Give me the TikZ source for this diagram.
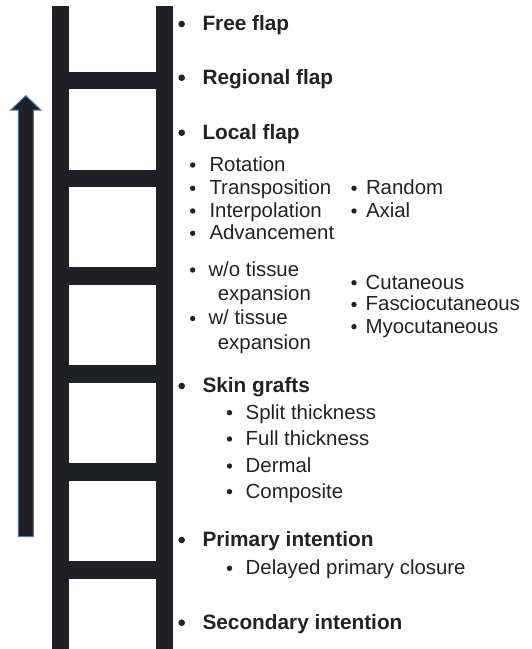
\documentclass[tikz,border=0pt]{standalone}
\usepackage{fontspec}
\setmainfont{Liberation Sans}
\definecolor{ink}{HTML}{202124}
\definecolor{txt}{HTML}{222222}
\definecolor{edge}{HTML}{4F79A8}
\tikzset{
  part/.style={fill=ink, draw=none},
  lbl/.style={anchor=base west, inner sep=0pt, text=txt, font=\fontsize{20.4}{24}\selectfont},
  blbl/.style={lbl, font=\fontsize{20.8}{24}\selectfont\bfseries},
  bigdot/.style={circle, fill=txt, inner sep=0pt, minimum size=6.6pt},
  smalldot/.style={circle, fill=txt, inner sep=0pt, minimum size=5.4pt},
}
\begin{document}
\begin{tikzpicture}[x=1pt,y=-1pt]
\useasboundingbox (0,0) rectangle (532,649);
% ladder rails
\fill[part] (51.7,6) rectangle (68.7,648.5);
\fill[part] (155.7,6) rectangle (172.7,648.5);
% rungs
\foreach \y in {71.7,169.7,267.3,365.3,463.3,561} {
  \fill[part] (68.7,\y) rectangle (155.7,\y+17.5);
}
% arrow
\filldraw[fill=ink, draw=edge, line width=1pt]
  (18.3,536.7) -- (18.3,110) -- (10.7,110) -- (25.8,95.7) -- (40.9,110) -- (33.3,110) -- (33.3,536.7) -- cycle;

% main items
\node[bigdot] (b1) at (181.7,24) {};
\node[blbl] (t1) at (202.3,30.3) {Free flap};
\node[bigdot] (b2) at (181.7,77.7) {};
\node[blbl] (t2) at (202.3,84) {Regional flap};
\node[bigdot] (b3) at (181.7,132.7) {};
\node[blbl] (t3) at (202.3,139) {Local flap};

% local flap sub items
\node[smalldot] (s1) at (192.7,165) {};
\node[lbl] (u1) at (209.3,171.3) {Rotation};
\node[smalldot] (s2) at (192.7,188.3) {};
\node[lbl] (u2) at (209.3,194.6) {Transposition};
\node[smalldot] (s3) at (192.7,211) {};
\node[lbl] (u3) at (209.3,217.3) {Interpolation};
\node[smalldot] (s4) at (192.7,233.3) {};
\node[lbl] (u4) at (209.3,239.6) {Advancement};

\node[smalldot] (r1) at (354,188.3) {};
\node[lbl] (v1) at (365.8,194.6) {Random};
\node[smalldot] (r2) at (354,211) {};
\node[lbl] (v2) at (365.8,217.3) {Axial};

\node[smalldot] (s5) at (192.7,270) {};
\node[lbl] (u5) at (208.3,276.3) {w/o tissue};
\node[lbl] (u5b) at (217.7,300.6) {expansion};
\node[smalldot] (s6) at (192.7,318.5) {};
\node[lbl] (u6) at (208.3,324.8) {w/ tissue};
\node[lbl] (u6b) at (217.7,349) {expansion};

\node[smalldot] (c1) at (354,282.7) {};
\node[lbl] (w1) at (365.5,289) {Cutaneous};
\node[smalldot] (c2) at (354,304.5) {};
\node[lbl] (w2) at (365.5,310.8) {Fasciocutaneous};
\node[smalldot] (c3) at (354,326.7) {};
\node[lbl] (w3) at (365.5,333) {Myocutaneous};

% skin grafts
\node[bigdot] (b4) at (181.7,386) {};
\node[blbl] (t4) at (202.3,392.3) {Skin grafts};
\node[smalldot] (g1) at (229.5,412.7) {};
\node[lbl] (h1) at (245.5,419) {Split thickness};
\node[smalldot] (g2) at (229.5,439) {};
\node[lbl] (h2) at (245.5,445.3) {Full thickness};
\node[smalldot] (g3) at (229.5,466) {};
\node[lbl] (h3) at (245.5,472.3) {Dermal};
\node[smalldot] (g4) at (229.5,491.7) {};
\node[lbl] (h4) at (245.5,498) {Composite};

% primary
\node[bigdot] (b5) at (181.7,540) {};
\node[blbl] (t5) at (202.3,546.3) {Primary intention};
\node[smalldot] (g5) at (229.5,568.3) {};
\node[lbl] (h5) at (245.5,574.6) {Delayed primary closure};

% secondary
\node[bigdot] (b6) at (181.7,622.7) {};
\node[blbl] (t6) at (202.3,629) {Secondary intention};
\end{tikzpicture}
\end{document}
